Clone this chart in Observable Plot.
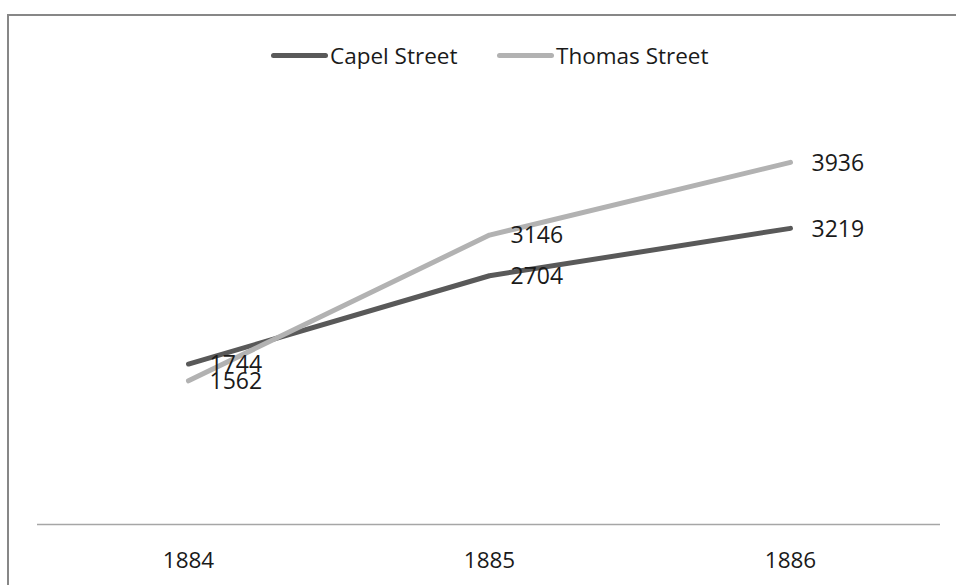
<!DOCTYPE html>
<html>
<head>
<meta charset="utf-8">
<script src="https://cdn.jsdelivr.net/npm/d3@7"></script>
<script src="https://cdn.jsdelivr.net/npm/@observablehq/plot@0.6"></script>
<style>
  html, body { margin: 0; padding: 0; background: #fff; overflow: hidden; }
  #wrap { position: relative; width: 956px; height: 585px; overflow: hidden; font-family: "Open Sans", sans-serif; }
  #frame { position: absolute; left: 7px; top: 14px; width: 1200px; height: 1000px; border: 2px solid #878787; box-sizing: border-box; pointer-events: none; }
  #chart { position: absolute; left: 0; top: 0; }
  .leg { position: absolute; top: 40px; height: 30px; display: flex; align-items: center; font-size: 22.5px; color: #1a1a1a; white-space: nowrap; }
  .leg span.sw { display: inline-block; width: 57px; height: 5px; border-radius: 3px; margin-right: 2px; }
</style>
</head>
<body>
<div id="wrap">
  <div id="chart"></div>
  <div id="frame"></div>
  <div id="legend"></div>
</div>
<script>
const years = [1884, 1885, 1886];
const seriesNames = ["Capel Street", "Thomas Street"];
const capelStreet = [1744, 2704, 3219];
const thomasStreet = [1562, 3146, 3936];
const seriesColors = ["#595959", "#b2b2b2"];

const rows = [];
[capelStreet, thomasStreet].forEach((vals, i) => {
  vals.forEach((v, j) => rows.push({series: seriesNames[i], year: years[j], value: v}));
});

const chart = Plot.plot({
  width: 956,
  height: 585,
  marginLeft: 37,
  marginRight: 16,
  marginTop: 110,
  marginBottom: 61,
  style: {fontFamily: "Open Sans", fontSize: "23px", color: "#1a1a1a", background: "transparent"},
  x: {type: "point", domain: years, padding: 0.5, label: null},
  y: {domain: [0, 4500], axis: null},
  color: {domain: seriesNames, range: seriesColors},
  marks: [
    Plot.ruleY([0], {stroke: "#a6a6a6", strokeWidth: 1.5}),
    Plot.axisX({tickSize: 0, tickPadding: 28, tickFormat: d => String(d), fontSize: 22.5, fill: "#1a1a1a", label: null}),
    Plot.line(rows, {x: "year", y: "value", z: "series", stroke: "series", strokeWidth: 5, strokeLinecap: "round", strokeLinejoin: "round"}),
    Plot.text(rows, {x: "year", y: "value", text: d => String(d.value), textAnchor: "start", dx: 21, dy: 1, fill: "#1a1a1a", fontSize: 23})
  ]
});
document.getElementById("chart").appendChild(chart);

// legend
const legendPos = [271, 497];
const legend = document.getElementById("legend");
seriesNames.forEach((name, i) => {
  const item = document.createElement("div");
  item.className = "leg";
  item.style.left = legendPos[i] + "px";
  const sw = document.createElement("span");
  sw.className = "sw";
  sw.style.background = seriesColors[i];
  item.appendChild(sw);
  item.appendChild(document.createTextNode(name));
  legend.appendChild(item);
});
</script>
</body>
</html>
